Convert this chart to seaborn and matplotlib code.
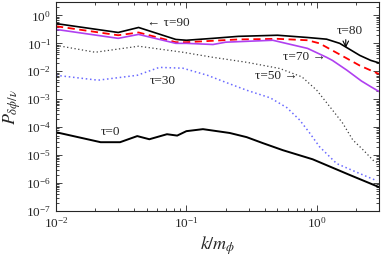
import matplotlib
matplotlib.use('Agg')
import matplotlib.pyplot as plt
from matplotlib import ticker
import pandas as pd
import seaborn as sns

# values (P as function of k/m_phi)
k_90 = [0.01, 0.030, 0.043, 0.083, 0.10, 0.16, 0.25, 0.5, 0.85, 1.19, 1.5, 2.14, 2.6, 3.0]
p_90 = [0.51, 0.245, 0.37, 0.138, 0.129, 0.151, 0.178, 0.195, 0.162, 0.141, 0.10, 0.037, 0.0245, 0.020]

k_80 = [0.01, 0.030, 0.043, 0.083, 0.10, 0.25, 0.5, 0.85, 1.05, 1.5, 2.14, 3.0]
p_80 = [0.41, 0.195, 0.245, 0.11, 0.11, 0.138, 0.145, 0.129, 0.10, 0.040, 0.016, 0.008]

k_70 = [0.01, 0.030, 0.043, 0.083, 0.10, 0.16, 0.20, 0.46, 0.85, 1.19, 1.32, 1.7, 2.2, 2.6, 3.0]
p_70 = [0.316, 0.151, 0.209, 0.1, 0.1, 0.091, 0.11, 0.129, 0.066, 0.0316, 0.0245, 0.011, 0.0045, 0.0028, 0.0019]

k_50 = [0.01, 0.020, 0.043, 0.094, 0.16, 0.29, 0.52, 0.77, 1.0, 1.32, 1.58, 1.89, 2.25, 2.7, 3.0]
p_50 = [0.085, 0.048, 0.079, 0.048, 0.0316, 0.021, 0.0126, 0.0063, 0.0021, 4.1e-4, 1.4e-4, 3.5e-5, 1.6e-5, 6.6e-6, 5.0e-6]

k_30 = [0.01, 0.021, 0.042, 0.062, 0.094, 0.145, 0.21, 0.29, 0.44, 0.59, 0.74, 0.88, 1.05, 1.42, 2.0, 2.9]
p_30 = [7.2e-3, 4.8e-3, 7.2e-3, 1.38e-2, 1.29e-2, 7.2e-3, 3.7e-3, 2.1e-3, 1.12e-3, 5.0e-4, 1.8e-4, 6.3e-5, 2.0e-5, 5.0e-6, 2.5e-6, 1.2e-6]

k_0 = [0.01, 0.022, 0.031, 0.042, 0.052, 0.071, 0.085, 0.10, 0.134, 0.215, 0.29, 0.385, 0.55, 0.93, 1.79, 3.0]
p_0 = [6.6e-5, 2.9e-5, 2.9e-5, 4.8e-5, 3.7e-5, 5.6e-5, 5.0e-5, 7.2e-5, 8.5e-5, 6.2e-5, 4.4e-5, 2.7e-5, 1.5e-5, 7.1e-6, 1.95e-6, 7.2e-7]

sns.set_style('ticks')
plt.rcParams['font.family'] = ['Liberation Serif', 'DejaVu Serif']
plt.rcParams['mathtext.fontset'] = 'stix'
plt.rcParams['xtick.direction'] = 'in'
plt.rcParams['ytick.direction'] = 'in'

fig = plt.figure(figsize=(3.82, 2.59), dpi=100)
ax = fig.add_axes([0.1466, 0.1853, 0.8454, 0.8067])
ax.set_xscale('log')
ax.set_yscale('log')

sns.lineplot(x=k_90, y=p_90, ax=ax, color='black', linewidth=1.2, sort=False)
sns.lineplot(x=k_80, y=p_80, ax=ax, color='#ff0000', linewidth=1.3, linestyle=(0, (4, 2.5)), sort=False)
sns.lineplot(x=k_70, y=p_70, ax=ax, color='#b040f0', linewidth=1.2, sort=False)
sns.lineplot(x=k_50, y=p_50, ax=ax, color='#404040', linewidth=0.9, linestyle=(0, (1, 2)), sort=False)
sns.lineplot(x=k_30, y=p_30, ax=ax, color='#6a6aff', linewidth=1.1, linestyle=(0, (1, 1.8)), sort=False)
sns.lineplot(x=k_0, y=p_0, ax=ax, color='black', linewidth=1.4, sort=False)

ax.set_xlim(0.01, 3.0)
ax.set_ylim(1e-7, 3.0)
for axis in (ax.xaxis, ax.yaxis):
    axis.set_major_locator(ticker.LogLocator(base=10, numticks=20))
    axis.set_minor_locator(ticker.LogLocator(base=10, subs=range(2, 10), numticks=20))
    axis.set_minor_formatter(ticker.NullFormatter())
ax.tick_params(which='both', top=True, right=True, labelsize=9.5, width=0.6)
ax.tick_params(which='major', length=4)
ax.tick_params(which='minor', length=2)
for s in ax.spines.values():
    s.set_linewidth(0.8)

ax.set_xlabel(r'$k/m_{\phi}$', fontsize=13, labelpad=3)
ax.set_ylabel(r'$P_{\delta\phi/\nu}$', fontsize=13, labelpad=2)

fs = 9.5
ax.text(0.073, 0.52, '← τ=90', fontsize=fs, ha='center', va='center')
ax.text(1.79, 0.27, 'τ=80', fontsize=fs, ha='center', va='center')
ax.annotate('', xy=(1.67, 0.055), xytext=(1.67, 0.17),
            arrowprops=dict(arrowstyle='->', color='black', lw=0.8))
ax.text(0.81, 0.032, 'τ=70 →', fontsize=fs, ha='center', va='center')
ax.text(0.49, 0.0066, 'τ=50 →', fontsize=fs, ha='center', va='center')
ax.text(0.066, 0.0044, 'τ=30', fontsize=fs, ha='center', va='center')
ax.text(0.026, 7e-5, 'τ=0', fontsize=fs, ha='center', va='center')

fig.savefig('out.png', dpi=100)
